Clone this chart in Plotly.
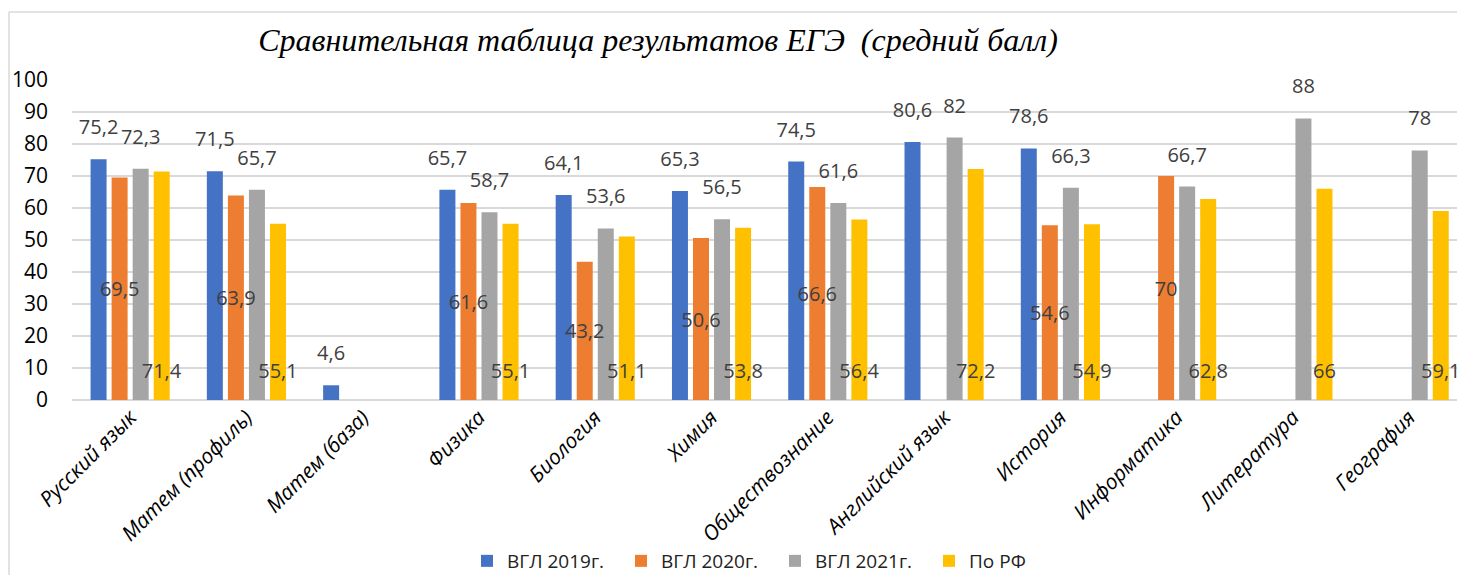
import plotly.graph_objects as go

categories = ["Русский язык", "Матем (профиль)", "Матем (база)", "Физика", "Биология", "Химия",
              "Обществознание", "Английский язык", "История", "Информатика", "Литература", "География"]
vgl_2019 = [75.2, 71.5, 4.6, 65.7, 64.1, 65.3, 74.5, 80.6, 78.6, None, None, None]
vgl_2020 = [69.5, 63.9, None, 61.6, 43.2, 50.6, 66.6, None, 54.6, 70, None, None]
vgl_2021 = [72.3, 65.7, None, 58.7, 53.6, 56.5, 61.6, 82, 66.3, 66.7, 88, 78]
po_rf = [71.4, 55.1, None, 55.1, 51.1, 53.8, 56.4, 72.2, 54.9, 62.8, 66, 59.1]
series_names = ["ВГЛ 2019г.", "ВГЛ 2020г.", "ВГЛ 2021г.", "По РФ"]
y_ticks = [0, 10, 20, 30, 40, 50, 60, 70, 80, 90, 100]
title_text = "Сравнительная таблица результатов ЕГЭ  (средний балл)"

colors = ["#4472C4", "#ED7D31", "#A5A5A5", "#FFC000"]
positions = ["outside", "inside", "outside", "inside"]
anchors = ["middle", "middle", "middle", "start"]
# label padding (axis units): extra space above bar top / above bar base
top_pad = [5, 0, 5, 0]
base_pad = [0, 0, 0, 4]


def fmt(v):
    if v is None:
        return ""
    return ("%g" % v).replace(".", ",")


# page body has an 8px default margin, so the figure is sized to fit the window
W, H = 1457, 567
L, R, T, B = 64, 0, 72, 175
pw, ph = W - L - R, H - T - B
label_font = dict(family="Open Sans", size=20, color="#404040")

all_series = [vgl_2019, vgl_2020, vgl_2021, po_rf]
fig = go.Figure()
# coloured bars
for i, (name, vals, col) in enumerate(zip(series_names, all_series, colors)):
    fig.add_trace(go.Bar(
        x=categories, y=vals, name=name, offsetgroup=str(i),
        marker=dict(color=col, line=dict(width=0)),
        hoverinfo="skip",
    ))
# transparent bars carrying the data labels, drawn on top
for i, (name, vals, pos, anc) in enumerate(zip(series_names, all_series, positions, anchors)):
    tp, bp = top_pad[i], base_pad[i]
    fig.add_trace(go.Bar(
        x=categories,
        y=[None if v is None else v + tp - bp for v in vals],
        base=[None if v is None else bp for v in vals],
        name=name, offsetgroup=str(i), showlegend=False,
        marker=dict(color="rgba(0,0,0,0)", line=dict(width=0)),
        text=[fmt(v) for v in vals],
        textposition=pos,
        insidetextanchor=anc,
        textangle=0,
        constraintext="none",
        cliponaxis=False,
        hoverinfo="skip",
        textfont=label_font, outsidetextfont=label_font, insidetextfont=label_font,
    ))

fig.update_layout(
    width=W, height=H,
    margin=dict(l=L, r=R, t=T, b=B, autoexpand=False),
    paper_bgcolor="white", plot_bgcolor="white",
    barmode="group", bargap=0.276, bargroupgap=0.24,
    title=dict(text=title_text, x=650 / W, xref="container", xanchor="center",
               y=1 - 32 / H, yref="container", yanchor="middle",
               font=dict(family="Liberation Serif", size=32, color="black", style="italic")),
    legend=dict(orientation="h", x=(775 - 72) / pw, xanchor="center",
                y=(400 - 561) / ph, yanchor="middle",
                font=dict(family="Open Sans", size=19, color="#222222"),
                entrywidth=109, entrywidthmode="pixels", itemwidth=30),
    showlegend=True,
)
fig.update_yaxes(range=[0, 100], tickvals=y_ticks, showgrid=True, gridcolor="#D9D9D9", gridwidth=1.5,
                 zeroline=True, zerolinecolor="#D9D9D9", zerolinewidth=1.5, showline=False,
                 automargin=False,
                 tickfont=dict(family="Open Sans", size=21, color="black"), ticklabelstandoff=23)
fig.update_xaxes(tickangle=-45, showline=False, showgrid=False, range=[-0.5, 11.48],
                 automargin=False,
                 tickfont=dict(family="Open Sans", size=21, color="black", style="italic"))

# chart frame (top and left borders)
x_left = (1 - L) / pw
y_top = (T + ph - 4) / ph
y_bot = (T + ph - H) / ph
fig.add_shape(type="line", xref="paper", yref="paper", x0=x_left, x1=1.0, y0=y_top, y1=y_top,
              line=dict(color="#D9D9D9", width=1.5))
fig.add_shape(type="line", xref="paper", yref="paper", x0=x_left, x1=x_left, y0=y_top, y1=y_bot,
              line=dict(color="#D9D9D9", width=1.5))

fig.write_html("out.html")
